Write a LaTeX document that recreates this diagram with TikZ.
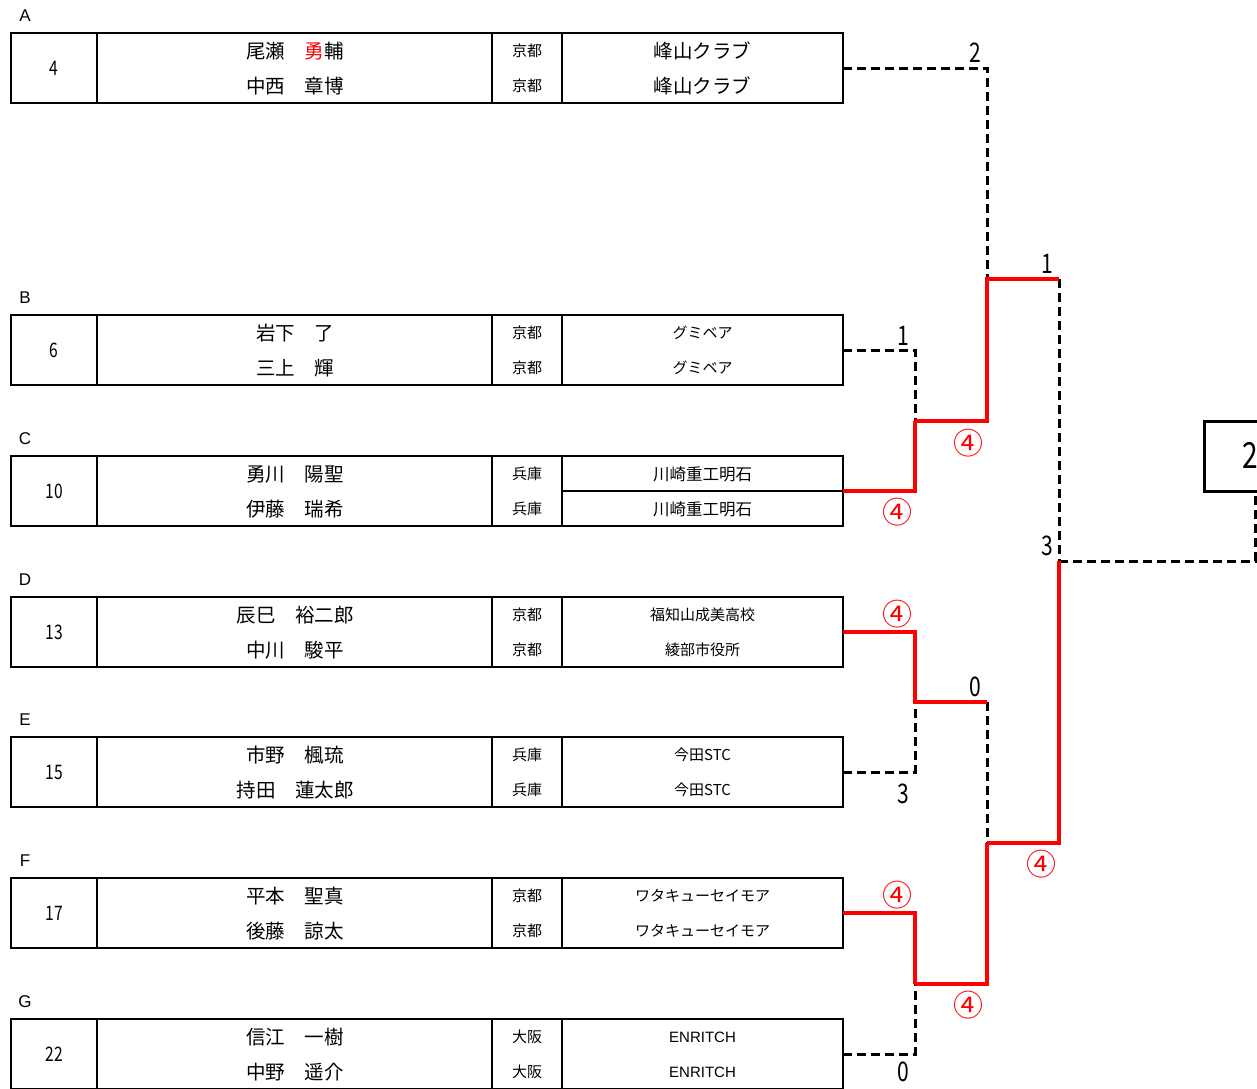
\documentclass[tikz,border=0pt]{standalone}
\usepackage{fontspec}
\setmainfont{Noto Sans CJK JP}
\newfontfamily\jpf{Noto Sans CJK JP}
\newfontfamily\narf[FakeStretch=0.78]{Noto Sans CJK JP}
\newfontfamily\latf{Liberation Sans}
\tikzset{
  boxline/.style={line width=2.6pt, black},
  dline/.style={line width=3pt, black, dash pattern=on 9pt off 5pt},
  rline/.style={line width=4pt, red, line join=miter},
  letterlab/.style={inner sep=0pt, font=\latf\fontsize{17}{17}\selectfont},
  seednum/.style={inner sep=0pt, font=\narf\fontsize{20}{20}\selectfont},
  pname/.style={inner sep=0pt, font=\jpf\fontsize{19.5}{20}\selectfont},
  pref/.style={inner sep=0pt, font=\jpf\fontsize{15}{15}\selectfont},
  club/.style={inner sep=0pt, font=\jpf\fontsize{15}{15}\selectfont},
  clubbig/.style={inner sep=0pt, font=\jpf\fontsize{19.5}{20}\selectfont},
  clubcur/.style={club},
  score/.style={inner sep=0pt, font=\narf\fontsize{27}{27}\selectfont},
  finalnum/.style={inner sep=0pt, font=\narf\fontsize{36}{36}\selectfont},
  circ/.style={inner sep=0pt, red, font=\jpf\fontsize{30}{30}\selectfont},
}
\newcommand\entrybox[9]{%
  \draw[boxline] (11,#2) rectangle (843,#2+70);
  \draw[boxline] (97,#2) -- (97,#2+70) (492,#2) -- (492,#2+70) (562,#2) -- (562,#2+70);
  \node[letterlab] (lab#1) at (25,#2-17) {#1};
  \node[seednum] (seed#1) at (54,#2+35) {#3};
  \node[pname] (n#1a) at (295,#2+18) {#4};
  \node[pname] (n#1b) at (295,#2+53) {#5};
  \node[pref] (p#1a) at (527,#2+18) {#6};
  \node[pref] (p#1b) at (527,#2+53) {#7};
  \node[clubcur] (c#1a) at (702.5,#2+18) {#8};
  \node[clubcur] (c#1b) at (702.5,#2+53) {#9};
  \coordinate (out#1) at (843,#2+35);
}
\begin{document}
\begin{tikzpicture}[x=1pt,y=-1pt]
\useasboundingbox (0,0) rectangle (1257,1088);
\tikzset{clubcur/.style={clubbig}}
\entrybox{A}{33}{4}{尾瀬　{\color{red}勇}輔}{中西　章博}{京都}{京都}{峰山クラブ}{峰山クラブ}
\tikzset{clubcur/.style={club}}
\entrybox{B}{315}{6}{岩下　了}{三上　輝}{京都}{京都}{グミベア}{グミベア}
\tikzset{clubcur/.style={club, font=\jpf\fontsize{16.5}{17}\selectfont}}
\entrybox{C}{456}{10}{勇川　陽聖}{伊藤　瑞希}{兵庫}{兵庫}{川崎重工明石}{川崎重工明石}
\draw[boxline] (562,491) -- (843,491);
\tikzset{clubcur/.style={club}}
\entrybox{D}{597}{13}{辰巳　裕二郎}{中川　駿平}{京都}{京都}{福知山成美高校}{綾部市役所}
\entrybox{E}{737}{15}{市野　楓琉}{持田　蓮太郎}{兵庫}{兵庫}{今田STC}{今田STC}
\entrybox{F}{878}{17}{平本　聖真}{後藤　諒太}{京都}{京都}{ワタキューセイモア}{ワタキューセイモア}
\tikzset{clubcur/.style={club, font=\latf\fontsize{15}{15}\selectfont}}
\entrybox{G}{1019}{22}{信江　一樹}{中野　遥介}{大阪}{大阪}{ENRITCH}{ENRITCH}

% final box
\node[draw, line width=2.6pt, minimum width=100pt, minimum height=70pt, inner sep=0pt, anchor=north west] (final) at (1203,420) {};
\node[finalnum] (finalscore) at (1250,455) {2};

% junction coordinates
\coordinate (j1) at (915,421);
\coordinate (j2) at (987,279);
\coordinate (j2r) at (1059,279);
\coordinate (j3) at (915,702);
\coordinate (j3r) at (987,702);
\coordinate (j4) at (987,843);
\coordinate (j5) at (915,984);
\coordinate (j6) at (1059,561);
\coordinate (fin) at (1255,490);

% dashed (losing) lines
\draw[dline] (outA) -| (j2);
\draw[dline] (outB) -| (j1);
\draw[dline] (outE) -| (j3);
\draw[dline] (outG) -| (j5);
\draw[dline] (j3r) -- (j4);
\draw[dline] (j2r) -- (j6);
\draw[dline] (j6) -| (fin);

% red (winning) lines
\draw[rline] (outC) -| (j1);
\draw[rline] (j1) -| (j2) -- (j2r);
\draw[rline] (outD) -| (j3) -- (j3r);
\draw[rline] (outF) -| (j5);
\draw[rline] (j5) -| (j4);
\draw[rline] (j4) -| (j6);

% scores
\node[score] (sA) at (975,53) {2};
\node[score] (sB) at (903,336) {1};
\node[score] (sAB) at (1047,264) {1};
\node[score] (sDG) at (1047,546) {3};
\node[score] (sDE) at (975,687) {0};
\node[score] (sE) at (903,794) {3};
\node[score] (sG) at (903,1072) {0};

% circled winning scores
\node[circ] (wC) at (897,512) {④};
\node[circ] (wBC) at (968,443) {④};
\node[circ] (wD) at (897,614) {④};
\node[circ] (wF) at (897,895) {④};
\node[circ] (wFG) at (968,1005) {④};
\node[circ] (wDG) at (1041,864) {④};
\end{tikzpicture}
\end{document}
